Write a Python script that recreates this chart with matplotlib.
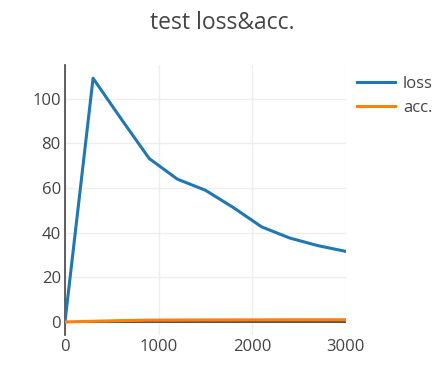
import matplotlib
matplotlib.use("Agg")
from matplotlib import pyplot as plt

plt.rcParams['font.family'] = ['Open Sans', 'DejaVu Sans']

steps = [0, 300, 600, 900, 1200, 1500, 1800, 2100, 2400, 2700, 3000]
loss = [0, 109.2, 91, 73.2, 64, 59, 51.2, 42.6, 37.6, 34.2, 31.6]
acc = [0, 0.3, 0.6, 0.8, 0.85, 0.9, 0.92, 0.95, 0.97, 0.98, 1.0]

txt = '#444444'
fig = plt.figure(figsize=(4.39, 3.75), dpi=100)
ax = fig.add_axes([0.148, 0.107, 0.64, 0.72])

ax.plot(steps, loss, color='#1f77b4', lw=2.2, label='loss', zorder=3)
ax.plot(steps, acc, color='#ff7f0e', lw=2.2, label='acc.', zorder=4)
ax.axhline(0, color='#444444', lw=1.3, zorder=2)

ax.set_xlim(0, 3000)
ax.set_ylim(-5.8, 115.2)
ax.set_xticks([0, 1000, 2000, 3000])
ax.set_yticks([0, 20, 40, 60, 80, 100])
ax.grid(True, color='#eeeeee', lw=1)
ax.set_axisbelow(True)

for s in ['top', 'right', 'bottom']:
    ax.spines[s].set_visible(False)
ax.spines['left'].set_color('#444444')
ax.spines['left'].set_linewidth(1.2)
ax.tick_params(length=0, labelsize=12, colors=txt, pad=3)

fig.suptitle('test loss&acc.', x=0.506, y=0.97, fontsize=16.5, color=txt)
fig.legend(loc='upper left', bbox_to_anchor=(0.779, 0.837), frameon=False,
           fontsize=12, labelcolor=txt, handlelength=2.3, handletextpad=0.45,
           labelspacing=0.45)

fig.savefig('out.png', dpi=100)
